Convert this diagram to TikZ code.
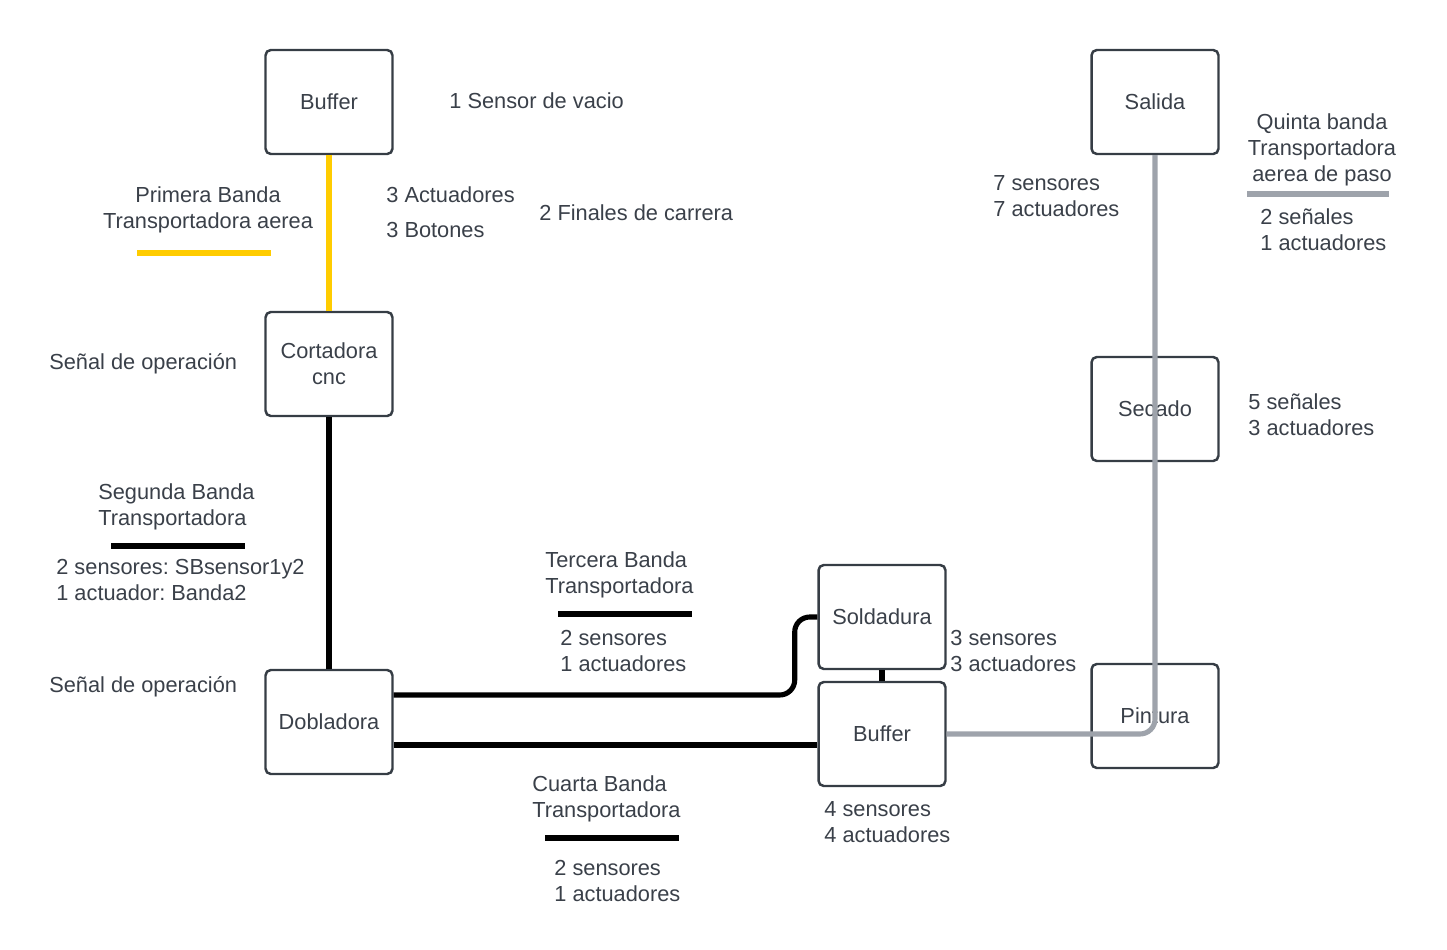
\documentclass[tikz,border=0pt]{standalone}
\usepackage{fontspec}
\setmainfont{Liberation Sans}
\usepackage{xcolor}
\usetikzlibrary{positioning}
\definecolor{txtgray}{HTML}{3A4049}
\definecolor{boxline}{HTML}{363D45}
\definecolor{bandyellow}{HTML}{FFCC00}
\definecolor{bandgray}{HTML}{9EA3AB}
\frenchspacing

\begin{document}
\begin{tikzpicture}[x=0.02cm, y=-0.02cm,
    every node/.style={font=\fontsize{12.4}{14.7}\selectfont, text=txtgray},
    station/.style={draw=boxline, line width=1.4pt, rounded corners=3pt,
        minimum width=2.54cm, minimum height=2.08cm, align=center, inner sep=0pt},
    note/.style={anchor=west, align=left, inner sep=0pt},
    title/.style={align=center, inner sep=0pt},
    band/.style={line width=2.9pt, black},
    yband/.style={line width=2.9pt, bandyellow},
    gband/.style={line width=2.9pt, bandgray}]
    \useasboundingbox (0,0) rectangle (1447,950);

    \node[station] (buf1) at (329,102) {Buffer};
    \node[station] (cort) at (329,364) {Cortadora\\cnc};
    \node[station] (dob) at (329,722) {Dobladora};
    \node[station] (sal) at (1155,102) {Salida};
    \node[station] (sec) at (1155,409) {Secado};
    \node[station] (pin) at (1155,716) {Pintura};
    \node[station] (sol) at (882,617) {Soldadura};
    \node[station] (buf2) at (882,734) {Buffer};

    \draw[yband] (buf1.south) -- (cort.north);
    \draw[band] (cort.south) -- (dob.north);
    \draw[band, rounded corners=0.3cm] ([yshift=0.54cm]dob.east) -- ++(401,0) |- (sol.west);
    \draw[band] ([yshift=-0.46cm]dob.east) -- ([yshift=-0.46cm]dob.east -| buf2.west);
    \draw[band] (sol.south) -- (buf2.north);
    \draw[gband, rounded corners=0.3cm] (buf2.east) -| (sal.south);

    % etiquetas
    \node[note] (vacio) at (449,101) {1 Sensor de vacio};
    \node[title] (primera) at (208,210) {Primera Banda\\Transportadora aerea};
    \draw[yband] (137,253) -- (271,253);
    \node[note] (act1) at (386,195) {3 Actuadores};
    \node[note] (bot1) at (386,230) {3 Botones};
    \node[note] (finales) at (539,213) {2 Finales de carrera};
    \node[note] (senal1) at (49,364) {Señal de operación};
    \node[note] (senal2) at (49,687) {Señal de operación};

    \node[note] (segunda) at (98,507) {Segunda Banda\\Transportadora};
    \draw[band] (111,546) -- (245,546);
    \node[note] (sens2) at (56,580) {2 sensores: SBsensor1y2\\1 actuador: Banda2};

    \node[note] (tercera) at (545,575) {Tercera Banda\\Transportadora};
    \draw[band] (558,614) -- (692,614);
    \node[note] (sens3) at (560,651) {2 sensores\\1 actuadores};
    \node[note] (sensol) at (950,651) {3 sensores\\3 actuadores};

    \node[note] (cuarta) at (532,799) {Cuarta Banda\\Transportadora};
    \draw[band] (545,838) -- (679,838);
    \node[note] (sens4) at (554,881) {2 sensores\\ 1 actuadores};
    \node[note] (sensbuf) at (824,822) {4 sensores\\4 actuadores};

    \node[note] (sensal) at (993,196) {7 sensores\\7 actuadores};
    \node[title] (quinta) at (1322,150) {Quinta banda\\Transportadora\\aerea de paso};
    \draw[gband] (1247,194) -- (1389,194);
    \node[note] (sens5) at (1260,230) {2 señales\\1 actuadores};
    \node[note] (senssec) at (1248,415) {5 señales\\3 actuadores};
\end{tikzpicture}
\end{document}
